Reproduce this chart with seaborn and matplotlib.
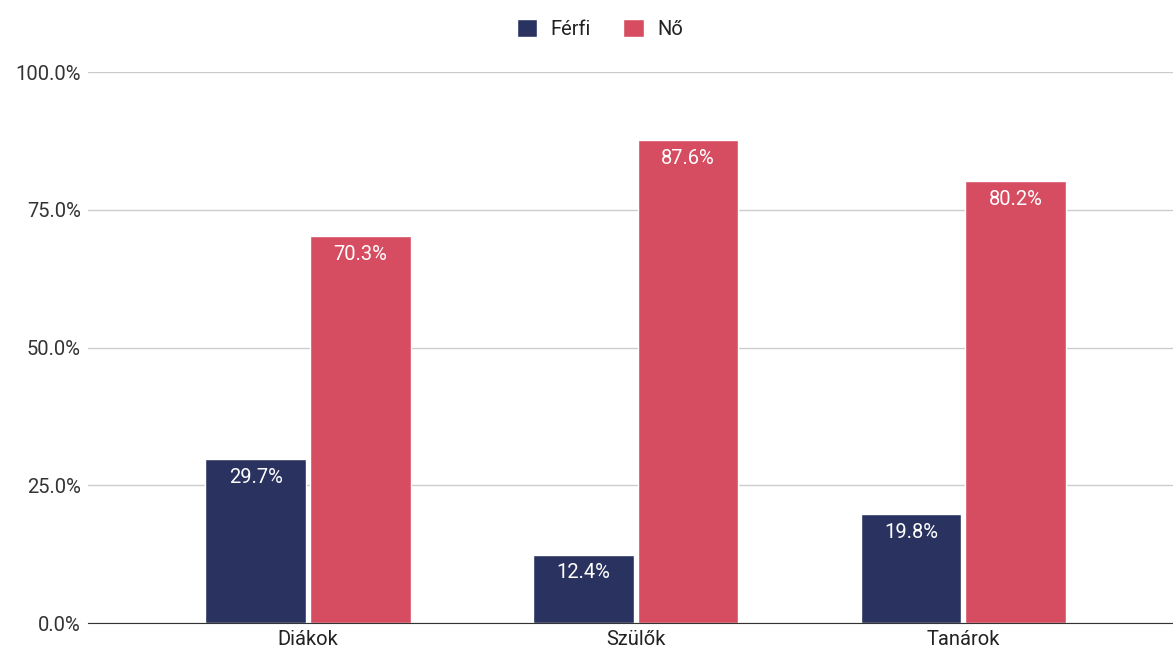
import pandas as pd
import matplotlib.pyplot as plt
import seaborn as sns
from matplotlib.ticker import FuncFormatter

# Adatok
categories = ['Diákok', 'Szülők', 'Tanárok']
ferfi = [29.7, 12.4, 19.8]
no = [70.3, 87.6, 80.2]
series_names = ['Férfi', 'Nő']
colors = ['#2a3360', '#d64c60']

df = pd.DataFrame({
    'kategoria': categories * 2,
    'nem': [series_names[0]] * 3 + [series_names[1]] * 3,
    'ertek': ferfi + no,
})

sns.set_style('white')
plt.rcParams['font.family'] = ['Roboto', 'DejaVu Sans']

fig = plt.figure(figsize=(11.73, 6.5), dpi=100)
ax = fig.add_axes([0.075, 0.0415, 0.925, 0.8475])

sns.barplot(data=df, x='kategoria', y='ertek', hue='nem', palette=colors,
            width=0.64, gap=0.04, ax=ax, legend=True, saturation=1)

# Adatcimkek
for cont in ax.containers:
    ax.bar_label(cont, labels=[f'{v:.1f}%' for v in cont.datavalues],
                 label_type='edge', padding=-20, color='white', fontsize=14.5)

ax.set_ylim(0, 100)
ax.set_xlim(-0.672, 2.64)
ax.set_yticks([0, 25, 50, 75, 100])
ax.yaxis.set_major_formatter(FuncFormatter(lambda v, p: f'{v:.1f}%'))
ax.grid(axis='y', color='#cccccc', linewidth=1)
ax.set_axisbelow(True)
ax.set_xlabel('')
ax.set_ylabel('')
for s in ['top', 'right', 'left']:
    ax.spines[s].set_visible(False)
ax.spines['bottom'].set_color('#333333')
ax.tick_params(axis='y', length=0, labelsize=14.5, colors='#333333', pad=5)
ax.tick_params(axis='x', length=0, labelsize=14.5, colors='#222222', pad=5)

handles, labels = ax.get_legend_handles_labels()
ax.legend(handles, labels, loc='lower center', bbox_to_anchor=(0.472, 1.035),
          ncol=2, frameon=False, fontsize=14.5, handlelength=1.0, handleheight=1.0,
          columnspacing=1.6, handletextpad=0.7, labelcolor='#222222',
          borderpad=0.2)

fig.savefig('out.png', dpi=100)
plt.close(fig)
